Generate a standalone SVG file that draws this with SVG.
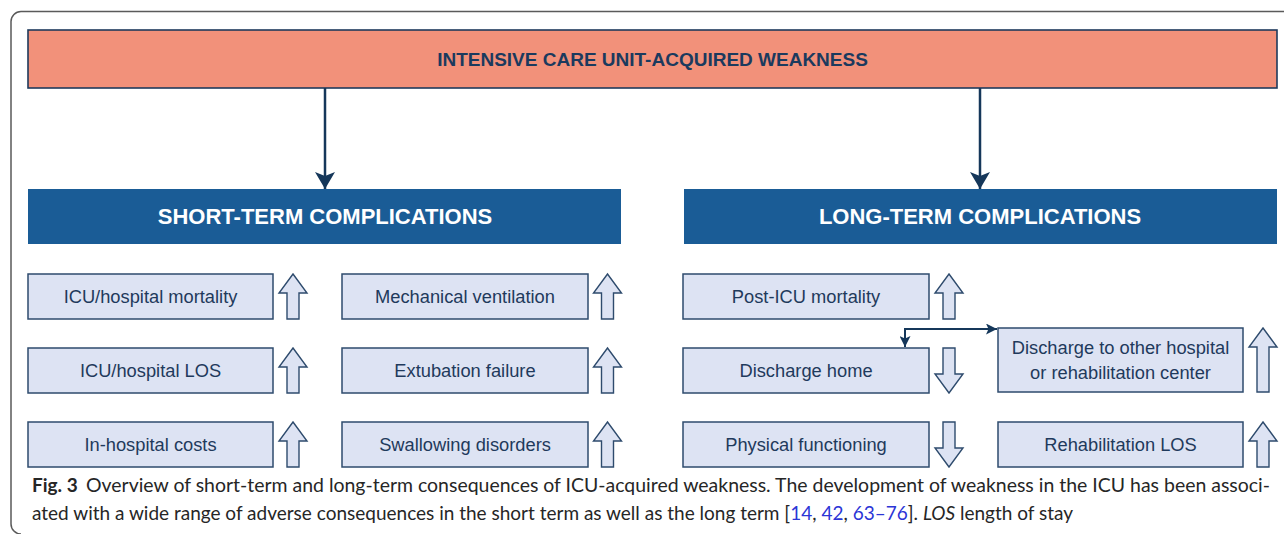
<svg xmlns="http://www.w3.org/2000/svg" width="1284" height="534" viewBox="0 0 1284 534">
  <style>
    .frame { fill: none; stroke: #5a5a5a; stroke-width: 1.5; }
    .banner { fill: #f2917a; stroke: #1e3a5c; stroke-width: 1.6; }
    .header { fill: #1a5c96; }
    .item { fill: #dde3f3; stroke: #2e4b6d; stroke-width: 1.5; }
    .trend { fill: #dde3f3; stroke: #2e4b6d; stroke-width: 1.4; stroke-linejoin: miter; }
    .title { font-family: "Liberation Sans", Arial, sans-serif; font-weight: bold; font-size: 19px; fill: #1b3a5e; text-anchor: middle; }
    .htext { font-family: "Liberation Sans", Arial, sans-serif; font-weight: bold; font-size: 22px; fill: #ffffff; text-anchor: middle; }
    .label { font-family: "Liberation Sans", Arial, sans-serif; font-size: 18.3px; fill: #1f3a5c; text-anchor: middle; }
    .main-link { fill: none; stroke: #15375a; stroke-width: 2.5; }
    .side-link { fill: none; stroke: #15375a; stroke-width: 2; }
    .caption { font-family: Lato, "Open Sans", sans-serif; font-size: 19px; fill: #262626; }
    .ref { fill: #2b35d6; }
  </style>
  <defs>
    <marker id="headBig" markerUnits="userSpaceOnUse" markerWidth="20" markerHeight="20" viewBox="0 0 17 20" refX="17" refY="10" orient="auto">
      <path d="M0,0 L17,10 L0,20 L4,10 Z" fill="#15375a"/>
    </marker>
    <marker id="headSmall" markerUnits="userSpaceOnUse" markerWidth="11" markerHeight="11" viewBox="0 0 11 11" refX="11" refY="5.5" orient="auto-start-reverse">
      <path d="M0,0 L11,5.5 L0,11 L2.5,5.5 Z" fill="#15375a"/>
    </marker>
    <!-- hollow block arrows, tip at the origin -->
    <path id="up" d="M0,0 L14,19 L6,19 L6,45 L-6,45 L-6,19 L-14,19 Z"/>
    <path id="upTall" d="M0,0 L14,19 L6,19 L6,64 L-6,64 L-6,19 L-14,19 Z"/>
    <path id="down" d="M-6,0 L6,0 L6,26 L14,26 L0,45 L-14,26 L-6,26 Z"/>
  </defs>

  <!-- panel border -->
  <path class="frame" d="M1284,11.5 H21 A10,10 0 0 0 11,21.5 V524 A10,10 0 0 0 21,534"/>

  <g id="icuaw">
    <rect class="banner" x="28" y="30" width="1249" height="58"/>
    <text class="title" x="652.5" y="66">INTENSIVE CARE UNIT-ACQUIRED WEAKNESS</text>
  </g>

  <g id="short-term">
    <rect class="header" x="28" y="189" width="593" height="55"/>
    <text class="htext" x="325" y="224">SHORT-TERM COMPLICATIONS</text>
  </g>

  <g id="long-term">
    <rect class="header" x="684" y="189" width="593" height="55"/>
    <text class="htext" x="980" y="224">LONG-TERM COMPLICATIONS</text>
  </g>

  <!-- short-term items -->
  <g id="icu-mortality">
    <rect class="item" x="28" y="274" width="245" height="45"/>
    <text class="label" x="150.5" y="303">ICU/hospital mortality</text>
    <use href="#up" class="trend" x="293" y="274"/>
  </g>
  <g id="icu-los">
    <rect class="item" x="28" y="348" width="245" height="45"/>
    <text class="label" x="150.5" y="377">ICU/hospital LOS</text>
    <use href="#up" class="trend" x="293" y="348"/>
  </g>
  <g id="costs">
    <rect class="item" x="28" y="422" width="245" height="45"/>
    <text class="label" x="150.5" y="451">In-hospital costs</text>
    <use href="#up" class="trend" x="293" y="422"/>
  </g>
  <g id="ventilation">
    <rect class="item" x="342" y="274" width="246" height="45"/>
    <text class="label" x="465" y="303">Mechanical ventilation</text>
    <use href="#up" class="trend" x="607.5" y="274"/>
  </g>
  <g id="extubation">
    <rect class="item" x="342" y="348" width="246" height="45"/>
    <text class="label" x="465" y="377">Extubation failure</text>
    <use href="#up" class="trend" x="607.5" y="348"/>
  </g>
  <g id="swallowing">
    <rect class="item" x="342" y="422" width="246" height="45"/>
    <text class="label" x="465" y="451">Swallowing disorders</text>
    <use href="#up" class="trend" x="607.5" y="422"/>
  </g>

  <!-- long-term items -->
  <g id="post-icu-mortality">
    <rect class="item" x="683" y="274" width="246" height="45"/>
    <text class="label" x="806" y="303">Post-ICU mortality</text>
    <use href="#up" class="trend" x="949" y="274"/>
  </g>
  <g id="discharge-home">
    <rect class="item" x="683" y="348" width="246" height="45"/>
    <text class="label" x="806" y="377">Discharge home</text>
    <use href="#down" class="trend" x="949" y="348"/>
  </g>
  <g id="physical">
    <rect class="item" x="683" y="422" width="246" height="45"/>
    <text class="label" x="806" y="451">Physical functioning</text>
    <use href="#down" class="trend" x="949" y="422"/>
  </g>
  <g id="discharge-other">
    <rect class="item" x="998" y="328" width="245" height="64"/>
    <text class="label" x="1120.5" y="354">Discharge to other hospital</text>
    <text class="label" x="1120.5" y="379">or rehabilitation center</text>
    <use href="#upTall" class="trend" x="1263" y="328"/>
  </g>
  <g id="rehab-los">
    <rect class="item" x="998" y="422" width="245" height="45"/>
    <text class="label" x="1120.5" y="451">Rehabilitation LOS</text>
    <use href="#up" class="trend" x="1263" y="422"/>
  </g>

  <g id="connectors">
    <line class="main-link" x1="325" y1="88" x2="325" y2="189" marker-end="url(#headBig)"/>
    <line class="main-link" x1="980" y1="88" x2="980" y2="189" marker-end="url(#headBig)"/>
    <path class="side-link" d="M905,347 V329 H997" marker-start="url(#headSmall)" marker-end="url(#headSmall)"/>
  </g>

  <!-- figure caption -->
  <g id="caption">
    <text class="caption" x="32" y="492" font-weight="bold" font-size="19.5">Fig. 3</text>
    <text class="caption" x="86" y="492" textLength="1184" lengthAdjust="spacingAndGlyphs">Overview of short-term and long-term consequences of ICU-acquired weakness. The development of weakness in the ICU has been associ-</text>
    <text class="caption" x="32" y="520">ated with a wide range of adverse consequences in the short term as well as the long term [<tspan class="ref">14</tspan>, <tspan class="ref">42</tspan>, <tspan class="ref">63–76</tspan>]. <tspan font-style="italic">LOS</tspan> length of stay</text>
  </g>
</svg>
